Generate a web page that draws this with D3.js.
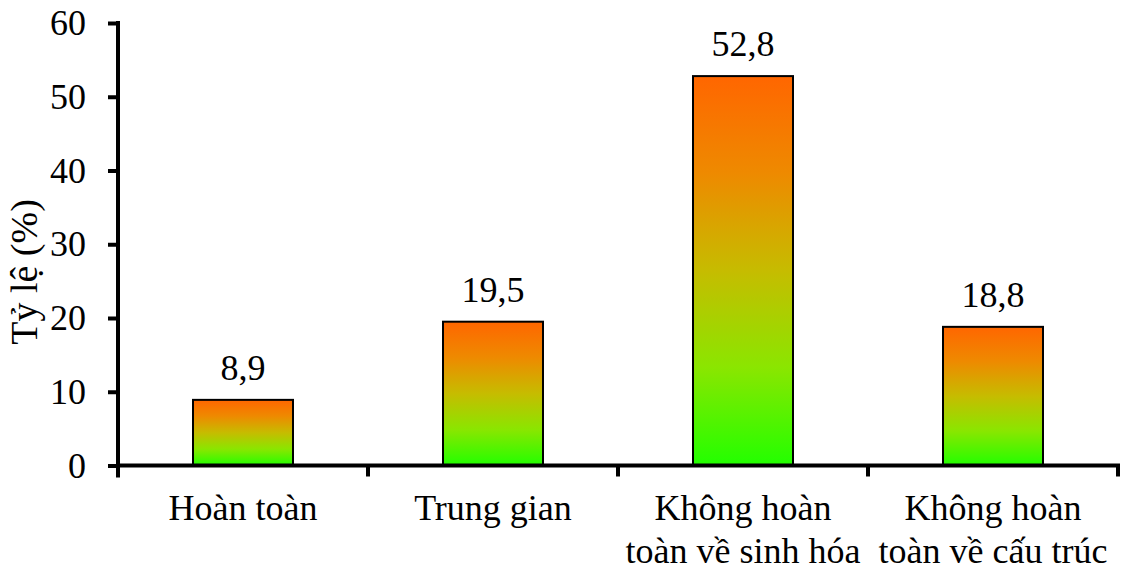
<!DOCTYPE html>
<html>
<head>
<meta charset="utf-8">
<script src="https://cdn.jsdelivr.net/npm/d3@7"></script>
<style>
  body { margin: 0; background: #fff; }
  svg text { font-family: "Liberation Serif", "Times New Roman", serif; fill: #000; }
</style>
</head>
<body>
<svg id="chart"></svg>
<script>
const categories = [
    ["Hoàn toàn"],
    ["Trung gian"],
    ["Không hoàn", "toàn về sinh hóa"],
    ["Không hoàn", "toàn về cấu trúc"]
];
const values = [8.9, 19.5, 52.8, 18.8];
const valueLabels = ["8,9", "19,5", "52,8", "18,8"];
const yTicks = [0, 10, 20, 30, 40, 50, 60];
const yTitle = "Tỷ lệ (%)";

const width = 1127, height = 574;
const serif = "'Liberation Serif', 'Times New Roman', serif";

const svg = d3.select("#chart")
    .attr("width", width)
    .attr("height", height);

const x = d3.scaleBand()
    .domain(d3.range(categories.length))
    .range([118, 1118])
    .paddingInner(0.6)
    .paddingOuter(0.3);

const y = d3.scaleLinear()
    .domain([0, 60])
    .range([465.5, 23]);

// orange -> green gradient, one per bar (bounding box)
const grad = svg.append("defs").append("linearGradient")
    .attr("id", "barGrad")
    .attr("x1", 0).attr("y1", 0)
    .attr("x2", 0).attr("y2", 1);
[[0, "#ff6600"], [0.25, "#ee8a00"], [0.5, "#c6bc00"], [0.75, "#8ae600"], [1, "#22ff00"]]
    .forEach(s => grad.append("stop").attr("offset", s[0]).attr("stop-color", s[1]));

// bars
svg.selectAll(".bar")
    .data(values)
    .enter()
    .append("rect")
    .attr("class", "bar")
    .attr("x", (d, i) => x(i))
    .attr("y", d => y(d))
    .attr("width", x.bandwidth())
    .attr("height", d => y(0) - y(d))
    .attr("fill", "url(#barGrad)")
    .attr("stroke", "#000")
    .attr("stroke-width", 2);

// value labels
svg.selectAll(".val")
    .data(values)
    .enter()
    .append("text")
    .attr("class", "val")
    .attr("x", (d, i) => x(i) + x.bandwidth() / 2)
    .attr("y", d => y(d) - 20)
    .attr("text-anchor", "middle")
    .style("font-family", serif)
    .style("font-size", "36px")
    .text((d, i) => valueLabels[i]);

// y axis
const yAxis = d3.axisLeft(y)
    .tickValues(yTicks)
    .tickSize(10)
    .tickSizeOuter(0)
    .tickPadding(22)
    .tickFormat(d3.format("d"));

const gy = svg.append("g")
    .attr("transform", `translate(${x.range()[0]},0)`)
    .call(yAxis)
    .attr("font-family", null)
    .attr("font-size", null);
gy.select(".domain").attr("stroke-width", 4).attr("d", `M0,${y(60) - 2}V${y(0) + 12}`);
gy.selectAll(".tick line").attr("stroke-width", 4);
gy.selectAll(".tick text")
    .style("font-family", serif)
    .style("font-size", "36px");

// x axis: line plus boundary ticks
const boundaries = d3.range(categories.length + 1).map(i => x.range()[0] + i * x.step());
const gx = svg.append("g");
gx.append("line")
    .attr("x1", x.range()[0])
    .attr("x2", x.range()[1] + 2)
    .attr("y1", y(0)).attr("y2", y(0))
    .attr("stroke", "#000")
    .attr("stroke-width", 4);
gx.selectAll(".xt")
    .data(boundaries.slice(1))
    .enter()
    .append("line")
    .attr("x1", d => d).attr("x2", d => d)
    .attr("y1", y(0)).attr("y2", y(0) + 11)
    .attr("stroke", "#000")
    .attr("stroke-width", 4);

// category labels
const cat = svg.selectAll(".cat")
    .data(categories)
    .enter()
    .append("text")
    .attr("class", "cat")
    .attr("text-anchor", "middle")
    .style("font-family", serif)
    .style("font-size", "36px");
cat.selectAll("tspan")
    .data((d, i) => d.map(line => ({ line, i })))
    .enter()
    .append("tspan")
    .attr("x", d => x(d.i) + x.bandwidth() / 2)
    .attr("y", (d, j) => 520 + j * 43)
    .text(d => d.line);

// y title
svg.append("text")
    .attr("transform", "translate(37,272) rotate(-90)")
    .attr("text-anchor", "middle")
    .style("font-family", serif)
    .style("font-size", "38px")
    .text(yTitle);
</script>
</body>
</html>
